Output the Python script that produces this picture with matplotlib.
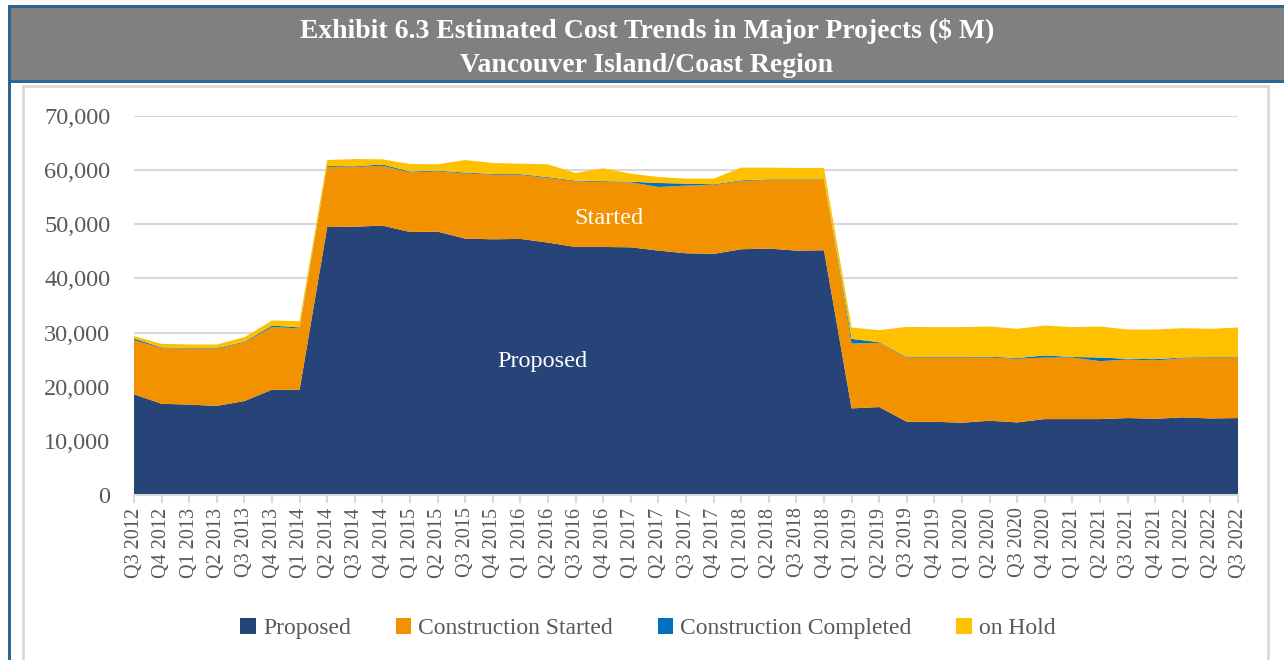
import numpy as np
import matplotlib
matplotlib.use("Agg")
import matplotlib.pyplot as plt
from matplotlib.patches import Rectangle
from matplotlib.ticker import FuncFormatter

# =================================================
# DATOS ($ M)
# =================================================
trimestres = []
for anio in range(2012, 2023):
    for q in (1, 2, 3, 4):
        if (anio == 2012 and q < 3) or (anio == 2022 and q > 3):
            continue
        trimestres.append(f"Q{q} {anio}")

proposed = [18600, 16850, 16700, 16450, 17350, 19450, 19450, 49500, 49550, 49760,
            48580, 48640, 47360, 47230, 47300, 46620, 45810, 45810, 45750, 45140,
            44650, 44530, 45390, 45510, 45140, 45200, 16000, 16240, 13530, 13530,
            13350, 13720, 13410, 14020, 14020, 14020, 14210, 14080, 14330, 14140, 14210]
started = [10000, 10270, 10360, 10610, 10820, 11600, 11300, 11070, 11020, 11060,
           11010, 11130, 12040, 11940, 11810, 11930, 12120, 12000, 12000, 11750,
           12490, 12720, 12600, 12670, 13040, 12980, 11980, 11860, 11800, 11860,
           12040, 11670, 11740, 11370, 11370, 10700, 10820, 10760, 10940, 11190, 11120]
completed = [300, 130, 120, 120, 130, 250, 200, 180, 130, 230,
             160, 130, 150, 130, 140, 150, 120, 140, 120, 740,
             370, 130, 130, 120, 120, 120, 860, 120, 120, 110,
             110, 160, 150, 380, 110, 670, 120, 250, 130, 120, 120]
on_hold = [450, 670, 620, 620, 850, 930, 1150, 1120, 1350, 950,
           1380, 1170, 2320, 2020, 1950, 2370, 1420, 2380, 1480, 1100,
           920, 1050, 2340, 2160, 2100, 2100, 2100, 2220, 5600, 5500,
           5500, 5570, 5390, 5530, 5500, 5730, 5420, 5480, 5410, 5240, 5490]

series = ["Proposed", "Construction Started", "Construction Completed", "on Hold"]
colores = ["#264478", "#F39200", "#0070C0", "#FFC000"]

# =================================================
# GRÁFICO
# =================================================
plt.rcParams["font.family"] = ["Liberation Serif", "DejaVu Serif"]
W, H = 1284, 660
fig = plt.figure(figsize=(W / 100, H / 100), dpi=100)


def rect_fig(x0, y0, ancho, alto, **kw):
    # rectángulo en píxeles (y desde arriba), detrás de los ejes
    r = Rectangle((x0 / W, 1 - (y0 + alto) / H), ancho / W, alto / H,
                  transform=fig.transFigure, zorder=-5, **kw)
    fig.patches.append(r)


# marco y barra de título
azul = "#2F6690"
rect_fig(9, 7, W - 9, 74, facecolor="#808080", edgecolor="none")
rect_fig(9, 5, W - 9, 2.5, facecolor=azul, edgecolor="none")
rect_fig(9, 80, W - 9, 3, facecolor=azul, edgecolor="none")
rect_fig(8, 5, 2.5, H, facecolor=azul, edgecolor="none")
rect_fig(23, 86, 1268 - 23, H, facecolor="none", edgecolor="#D9D9D9", linewidth=2)

fig.text(647 / W, 1 - 31 / H, "Exhibit 6.3 Estimated Cost Trends in Major Projects ($ M)",
         ha="center", va="center", color="white", fontsize=20, fontweight="bold")
fig.text(647 / W, 1 - 65 / H, "Vancouver Island/Coast Region",
         ha="center", va="center", color="white", fontsize=20, fontweight="bold")

ax = fig.add_axes([134 / W, 1 - 495 / H, (1238 - 134) / W, (495 - 116) / H])
ax.patch.set_alpha(0)
x = np.arange(len(trimestres))
ax.stackplot(x, proposed, started, completed, on_hold, colors=colores,
             labels=series, linewidth=0, zorder=2)

ax.set_xlim(0, len(trimestres) - 1)
ax.set_ylim(0, 70000)
ax.set_yticks(range(0, 70001, 10000))
ax.yaxis.set_major_formatter(FuncFormatter(lambda v, p: f"{int(v):,}"))
ax.grid(axis="y", color="#D9D9D9", linewidth=1.5, zorder=0)
ax.set_axisbelow(True)
ax.set_xticks(x)
ax.set_xticklabels(trimestres, rotation=90)
ax.tick_params(axis="y", length=0, pad=17, labelsize=17.5, labelcolor="#595959")
ax.tick_params(axis="x", length=6, width=1.5, color="#D9D9D9", pad=3,
               labelsize=14.5, labelcolor="#595959")
for lado in ["top", "right", "left"]:
    ax.spines[lado].set_visible(False)
ax.spines["bottom"].set_color("#D9D9D9")
ax.spines["bottom"].set_linewidth(1.5)

ax.text(17.2, 51000, "Started", ha="center", va="center", color="white", fontsize=17.5)
ax.text(14.8, 24600, "Proposed", ha="center", va="center", color="white", fontsize=17.5)

ax.legend(loc="center", bbox_to_anchor=(0.4655, -0.352), ncol=4, frameon=False,
          fontsize=17, labelcolor="#595959", handlelength=0.65, handleheight=0.65,
          handletextpad=0.3, columnspacing=1.9)

plt.savefig("out.png", dpi=100)
